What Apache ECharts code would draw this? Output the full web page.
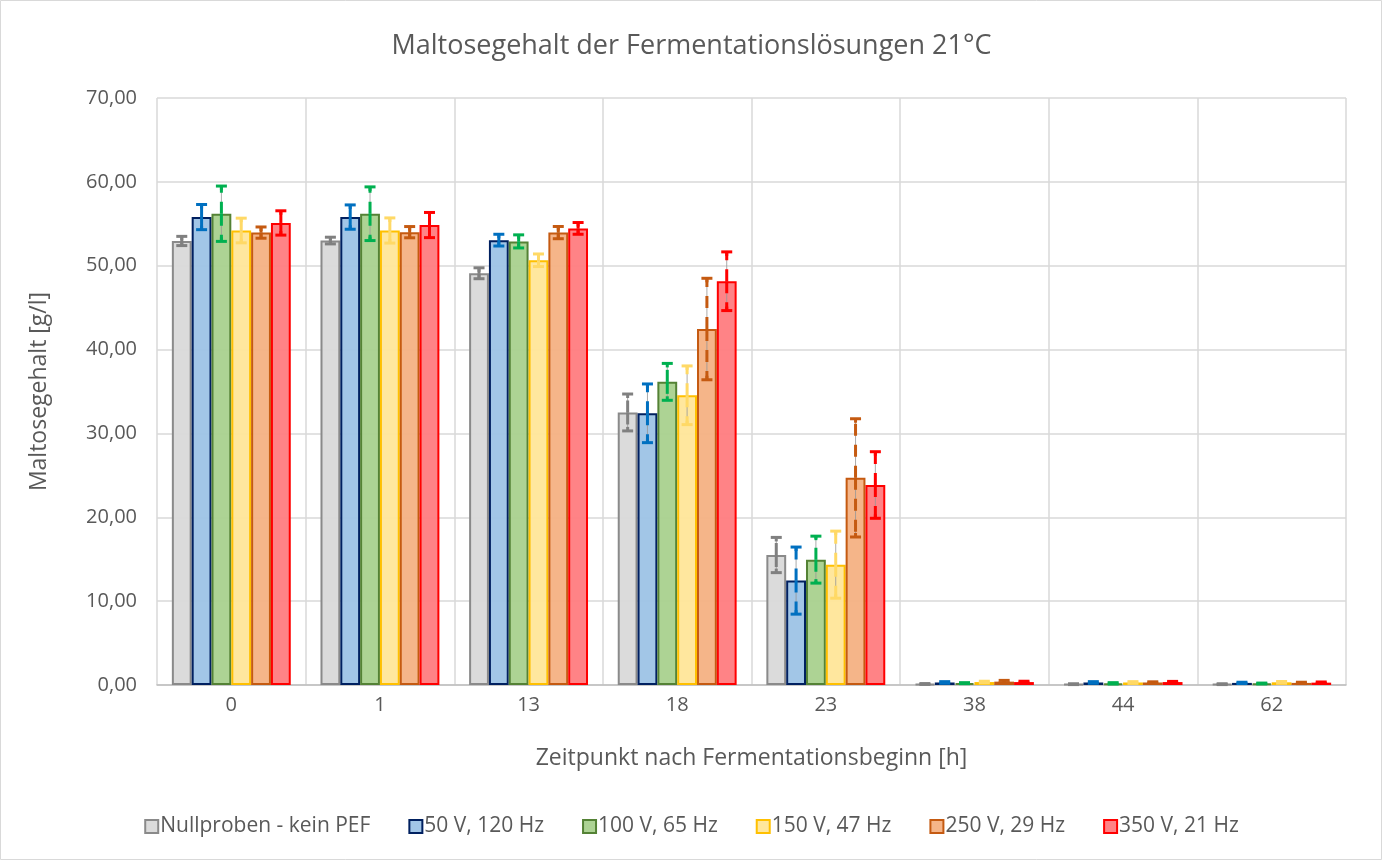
<!DOCTYPE html>
<html>
<head>
<meta charset="utf-8">
<script src="https://cdn.jsdelivr.net/npm/echarts@6/dist/echarts.min.js"></script>
<style>
  html, body { margin: 0; padding: 0; background: #fff; }
  #chart { width: 1383px; height: 861px; }
</style>
</head>
<body>
<div id="chart"></div>
<script>
var categories = ['0', '1', '13', '18', '23', '38', '44', '62'];
var seriesNames = ['Nullproben - kein PEF', '50 V, 120 Hz', '100 V, 65 Hz', '150 V, 47 Hz', '250 V, 29 Hz', '350 V, 21 Hz'];

var nullWerte = [52.95, 53.0, 49.1, 32.5, 15.5, 0.12, 0.10, 0.10];
var v50Werte = [55.8, 55.8, 53.05, 32.4, 12.45, 0.30, 0.30, 0.25];
var v100Werte = [56.2, 56.2, 52.9, 36.15, 14.95, 0.22, 0.20, 0.18];
var v150Werte = [54.2, 54.2, 50.65, 34.55, 14.35, 0.35, 0.30, 0.32];
var v250Werte = [53.95, 54.0, 53.95, 42.45, 24.7, 0.40, 0.30, 0.25];
var v350Werte = [55.1, 54.85, 54.45, 48.15, 23.85, 0.35, 0.35, 0.28];

var nullFehler = [0.55, 0.4, 0.65, 2.2, 2.1, 0.05, 0.05, 0.05];
var v50Fehler = [1.5, 1.45, 0.7, 3.5, 4.0, 0.1, 0.1, 0.08];
var v100Fehler = [3.3, 3.2, 0.78, 2.2, 2.8, 0.06, 0.08, 0.05];
var v150Fehler = [1.47, 1.5, 0.75, 3.5, 4.0, 0.1, 0.1, 0.1];
var v250Fehler = [0.67, 0.67, 0.73, 6.05, 7.05, 0.15, 0.08, 0.08];
var v350Fehler = [1.45, 1.5, 0.7, 3.5, 3.97, 0.1, 0.08, 0.08];

var werte = [nullWerte, v50Werte, v100Werte, v150Werte, v250Werte, v350Werte];
var fehler = [nullFehler, v50Fehler, v100Fehler, v150Fehler, v250Fehler, v350Fehler];

var fillColors = ['rgba(217,217,217,0.95)', 'rgba(157,195,230,0.95)', 'rgba(169,209,142,0.95)', 'rgba(255,230,153,0.95)', 'rgba(244,177,131,0.95)', 'rgba(255,124,128,0.95)'];
var borderColors = ['#8a8a8a', '#002060', '#548235', '#ffc000', '#c55a11', '#ff0000'];
var errColors = ['#808080', '#0070c0', '#00b050', '#ffd966', '#c55a11', '#ff0000'];

var textColor = '#595959';
var fontFam = '"Open Sans", "Noto Sans", sans-serif';
var catGapRatio = 0.2;

var chart = echarts.init(document.getElementById('chart'), null, { renderer: 'canvas' });

var series = [];
werte.forEach(function(w, i) {
  series.push({
    name: seriesNames[i],
    type: 'bar',
    data: w,
    barGap: '0%',
    barCategoryGap: '20%',
    itemStyle: { color: fillColors[i], borderColor: borderColors[i], borderWidth: 2 },
    z: 2
  });
});

// Fehlerbalken: dünne Linie, gestrichelter Balken ab Mittelwert, Kappen an den Enden
werte.forEach(function(w, i) {
  var data = w.map(function(v, k) { return [k, v - fehler[i][k], v + fehler[i][k], v]; });
  series.push({
    name: 'err' + i,
    type: 'custom',
    z: 5,
    silent: true,
    encode: { x: 0, y: [1, 2] },
    data: data,
    renderItem: function(params, api) {
      var k = api.value(0);
      var catW = api.size([1, 0])[0];
      var barW = catW * (1 - catGapRatio) / 6;
      var center = api.coord([k, api.value(3)]);
      var lo = api.coord([k, api.value(1)]);
      var hi = api.coord([k, api.value(2)]);
      var x = center[0] + (i - 2.5) * barW;
      var col = errColors[i];
      var capW = 5.5;
      var dash = [12, 9];
      return {
        type: 'group',
        children: [
          { type: 'line', shape: { x1: x, y1: hi[1], x2: x, y2: lo[1] },
            style: { stroke: 'rgba(150,150,150,0.8)', lineWidth: 1 } },
          { type: 'line', shape: { x1: x, y1: center[1], x2: x, y2: hi[1] },
            style: { stroke: col, lineWidth: 3, lineDash: dash } },
          { type: 'line', shape: { x1: x, y1: center[1], x2: x, y2: lo[1] },
            style: { stroke: col, lineWidth: 3, lineDash: dash } },
          { type: 'line', shape: { x1: x - capW, y1: hi[1], x2: x + capW, y2: hi[1] },
            style: { stroke: col, lineWidth: 3 } },
          { type: 'line', shape: { x1: x - capW, y1: lo[1], x2: x + capW, y2: lo[1] },
            style: { stroke: col, lineWidth: 3 } },
          { type: 'line', shape: { x1: x, y1: hi[1], x2: x, y2: Math.min(hi[1] + 4, center[1]) },
            style: { stroke: col, lineWidth: 3 } },
          { type: 'line', shape: { x1: x, y1: lo[1], x2: x, y2: Math.max(lo[1] - 4, center[1]) },
            style: { stroke: col, lineWidth: 3 } }
        ]
      };
    }
  });
});

chart.setOption({
  animation: false,
  backgroundColor: '#ffffff',
  title: {
    text: 'Maltosegehalt der Fermentationslösungen 21°C',
    left: 'center',
    top: 28,
    textStyle: { color: textColor, fontSize: 27, fontWeight: 'normal', fontFamily: fontFam }
  },
  legend: {
    data: seriesNames.map(function(n) { return { name: n, icon: 'rect' }; }),
    bottom: 19,
    left: 'center',
    itemWidth: 13,
    itemHeight: 13,
    itemGap: 38,
    textStyle: { color: textColor, fontSize: 21, fontFamily: fontFam, padding: [0, 0, 0, -3] }
  },
  grid: { left: 157, right: 37, top: 98, bottom: 176, containLabel: false },
  xAxis: {
    type: 'category',
    data: categories,
    name: 'Zeitpunkt nach Fermentationsbeginn [h]',
    nameLocation: 'middle',
    nameGap: 62,
    nameTextStyle: { color: textColor, fontSize: 23, fontFamily: fontFam },
    axisLine: { lineStyle: { color: '#bfbfbf', width: 1.5 } },
    axisTick: { show: false },
    axisLabel: { color: textColor, fontSize: 20, margin: 10, fontFamily: fontFam },
    splitLine: { show: true, lineStyle: { color: '#d9d9d9', width: 1.5 } }
  },
  yAxis: {
    type: 'value',
    min: 0,
    max: 70,
    interval: 10,
    name: 'Maltosegehalt [g/l]',
    nameLocation: 'middle',
    nameGap: 106,
    nameRotate: 90,
    nameTextStyle: { color: textColor, fontSize: 23, fontFamily: fontFam },
    axisLine: { show: false },
    axisTick: { show: false },
    axisLabel: {
      color: textColor, fontSize: 20, margin: 20, fontFamily: fontFam,
      formatter: function(v) { return v.toFixed(2).replace('.', ','); }
    },
    splitLine: { lineStyle: { color: '#d9d9d9', width: 1.5 } }
  },
  graphic: [{
    type: 'rect',
    shape: { x: 0.5, y: 0.5, width: 1381, height: 859 },
    style: { fill: 'none', stroke: '#d9d9d9', lineWidth: 1 },
    silent: true
  }],
  series: series
});
</script>
</body>
</html>
